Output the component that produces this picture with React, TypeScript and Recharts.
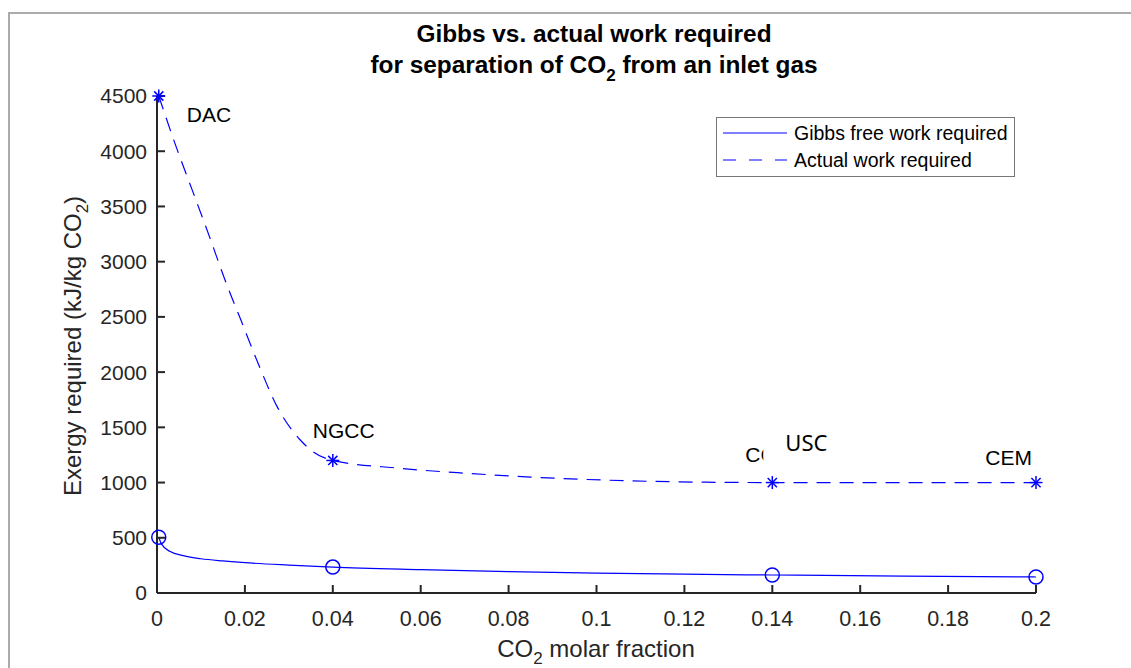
import React from "react";
import { ComposedChart, Line, Scatter, XAxis, YAxis } from "recharts";

// curve samples (CO2 molar fraction -> kJ/kg CO2)
const gibbsX = [0.0004, 0.001, 0.003, 0.006, 0.01, 0.015, 0.021, 0.03, 0.04, 0.06, 0.08, 0.1, 0.12, 0.14, 0.17, 0.2];
const gibbsY = [505, 445, 375, 338, 310, 290, 272, 253, 235, 212, 193, 180, 170, 163, 153, 145];

const actualX = [0.0004, 0.004, 0.008, 0.012, 0.0157, 0.019, 0.023, 0.0273, 0.0325, 0.0355, 0.04, 0.055, 0.07, 0.085, 0.108, 0.125, 0.14, 0.17, 0.2];
const actualY = [4500, 4080, 3650, 3220, 2810, 2480, 2080, 1690, 1390, 1280, 1200, 1130, 1085, 1050, 1015, 1003, 1000, 1000, 1000];

// the four sources marked on both curves
const siteX = [0.0004, 0.04, 0.14, 0.2];
const siteNames = ["DAC", "NGCC", "CC", "CEM"];
const gibbsAtSite = [505, 235, 163, 145];
const actualAtSite = [4500, 1200, 1000, 1000];

const xTicks = [0, 0.02, 0.04, 0.06, 0.08, 0.1, 0.12, 0.14, 0.16, 0.18, 0.2];
const yTicks = [0, 500, 1000, 1500, 2000, 2500, 3000, 3500, 4000, 4500];

const BLUE = "#0000ff";
const AXIS = "#262626";
const FONT = "'Liberation Sans', Arial, sans-serif";

const gibbsData = gibbsX.map((x, i) => ({ x, y: gibbsY[i] }));
const actualData = actualX.map((x, i) => ({ x, y: actualY[i] }));
const gibbsPts = siteX.map((x, i) => ({ x, y: gibbsAtSite[i] }));
const actualPts = siteX.map((x, i) => ({ x, y: actualAtSite[i], name: siteNames[i] }));

// label placement relative to each asterisk
const labelOffset: { [k: string]: { dx: number; dy: number; anchor: string } } = {
  DAC: { dx: 28, dy: 26, anchor: "start" },
  NGCC: { dx: -20, dy: -22, anchor: "start" },
  CC: { dx: -27, dy: -21, anchor: "start" },
  CEM: { dx: -4, dy: -18, anchor: "end" },
};

const Circle = (props: any) => {
  const { cx, cy } = props;
  return <circle cx={cx} cy={cy} r={7} fill="none" stroke={BLUE} strokeWidth={1.5} />;
};

const Star = (props: any) => {
  const { cx, cy, payload } = props;
  const r = 6.5;
  const d = 4.6;
  const off = labelOffset[payload.name];
  return (
    <g>
      <g stroke={BLUE} strokeWidth={1.5}>
        <line x1={cx - r} y1={cy} x2={cx + r} y2={cy} />
        <line x1={cx} y1={cy - r} x2={cx} y2={cy + r} />
        <line x1={cx - d} y1={cy - d} x2={cx + d} y2={cy + d} />
        <line x1={cx - d} y1={cy + d} x2={cx + d} y2={cy - d} />
      </g>
      {off && (
        <text x={cx + off.dx} y={cy + off.dy} textAnchor={off.anchor} fontSize={21} fontFamily={FONT} fill="#000">
          {payload.name}
        </text>
      )}
      {payload.name === "CC" && (
        <g>
          <rect x={cx - 9} y={cy - 58} width={70} height={44} fill="#fff" />
          <text x={cx + 13} y={cy - 32} fontSize={22} fontFamily="'Noto Sans', sans-serif" fill="#000">
            USC
          </text>
        </g>
      )}
    </g>
  );
};

const fmtX = (v: number) => String(Number(v.toFixed(2)));

export default function App() {
  return (
    <div style={{ position: "absolute", left: 0, top: 0, width: 1131, height: 668, background: "#fff", fontFamily: FONT }}>
      <div
        style={{
          position: "absolute",
          left: 8,
          top: 12,
          width: 1200,
          height: 700,
          borderLeft: "2px solid #ababab",
          borderTop: "2px solid #ababab",
        }}
      />
      <div style={{ position: "absolute", left: 0, top: 0 }}>
        <ComposedChart width={1131} height={668} margin={{ top: 96, right: 95, bottom: 45, left: 57 }}>
          <XAxis
            xAxisId={0}
            dataKey="x"
            type="number"
            domain={[0, 0.2]}
            ticks={xTicks}
            tickFormatter={fmtX}
            height={30}
            stroke={AXIS}
            strokeWidth={2}
            tickSize={-8}
            tickMargin={26}
            tick={{ fontSize: 21.5, fill: AXIS, fontFamily: FONT }}
            interval={0}
          />
          <XAxis
            xAxisId="top"
            orientation="top"
            dataKey="x"
            type="number"
            domain={[0, 0.2]}
            ticks={xTicks}
            height={0}
            stroke={AXIS}
            strokeWidth={2}
            tickSize={-8}
            tick={false}
            interval={0}
          />
          <YAxis
            yAxisId={0}
            type="number"
            domain={[0, 4500]}
            ticks={yTicks}
            width={100}
            stroke={AXIS}
            strokeWidth={2}
            tickSize={-8}
            tickMargin={18}
            tick={{ fontSize: 21, fill: AXIS, fontFamily: FONT }}
            interval={0}
          />
          <YAxis
            yAxisId="right"
            orientation="right"
            type="number"
            domain={[0, 4500]}
            ticks={yTicks}
            width={0}
            stroke={AXIS}
            strokeWidth={2}
            tickSize={-8}
            tick={false}
            interval={0}
          />
          <Line
            data={gibbsData}
            dataKey="y"
            type="monotone"
            stroke={BLUE}
            strokeWidth={1.2}
            dot={false}
            activeDot={false}
            isAnimationActive={false}
          />
          <Line
            data={actualData}
            dataKey="y"
            type="monotone"
            stroke={BLUE}
            strokeWidth={1.2}
            strokeDasharray="14 9"
            dot={false}
            activeDot={false}
            isAnimationActive={false}
          />
          <Scatter data={gibbsPts} dataKey="y" shape={Circle} isAnimationActive={false} />
          <Scatter data={actualPts} dataKey="y" shape={Star} isAnimationActive={false} />
        </ComposedChart>
      </div>
      <svg width={1131} height={668} style={{ position: "absolute", left: 0, top: 0, pointerEvents: "none" }}>
        <g fontFamily={FONT} fill="#000" fontWeight="bold" fontSize={24.4} textAnchor="middle">
          <text x={594} y={42}>Gibbs vs. actual work required</text>
          <text x={594} y={73}>
            for separation of CO
            <tspan fontSize={17} dy={8}>2</tspan>
            <tspan dy={-8}> from an inlet gas</tspan>
          </text>
        </g>
        <text x={596} y={657} fontFamily={FONT} fontSize={24} fill={AXIS} textAnchor="middle">
          CO<tspan fontSize={17} dy={7}>2</tspan>
          <tspan dy={-7}> molar fraction</tspan>
        </text>
        <text
          transform="translate(81,346) rotate(-90)"
          fontFamily={FONT}
          fontSize={24}
          fill={AXIS}
          textAnchor="middle"
        >
          Exergy required (kJ/kg CO<tspan fontSize={17} dy={7}>2</tspan>
          <tspan dy={-7}>)</tspan>
        </text>
        <g>
          <rect x={716.5} y={117.5} width={298} height={59} fill="#fff" stroke="#777" strokeWidth={1} />
          <line x1={723} y1={133} x2={787} y2={133} stroke={BLUE} strokeWidth={1.2} />
          <line x1={723} y1={160} x2={787} y2={160} stroke={BLUE} strokeWidth={1.2} strokeDasharray="13 13" />
          <text x={794} y={140} fontFamily={FONT} fontSize={19.5} fill="#000">Gibbs free work required</text>
          <text x={794} y={167} fontFamily={FONT} fontSize={19.5} fill="#000">Actual work required</text>
        </g>
      </svg>
    </div>
  );
}
